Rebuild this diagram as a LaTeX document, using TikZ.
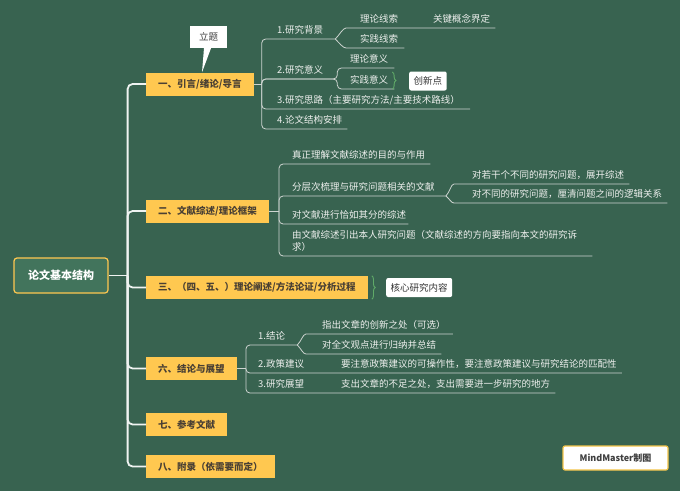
\documentclass[tikz,border=0pt]{standalone}
\usepackage{fontspec}
\setmainfont{Noto Sans CJK SC}
\usepackage{tikz}
\usetikzlibrary{
  positioning, calc,
  decorations.pathreplacing
}
\definecolor{boardgreen}{RGB}{56,99,80}
\definecolor{rootgreen}{RGB}{66,116,92}
\definecolor{topicyellow}{RGB}{255,200,80}
\definecolor{topictext}{RGB}{74,64,52}
\definecolor{leafwhite}{RGB}{238,240,238}
\definecolor{linegray}{RGB}{205,212,208}
\definecolor{bracegreen}{RGB}{96,170,104}
\definecolor{markyellow}{RGB}{244,196,72}
\tikzset{
  rootbox/.style={rectangle,rounded corners=3pt,draw=topicyellow,line width=1.2pt,fill=rootgreen,text=white,minimum width=94pt,minimum height=35pt,font=\fontsize{11}{13}\selectfont\bfseries},
  topicbox/.style={rectangle,fill=topicyellow,text=topictext,anchor=west,minimum height=23pt,inner xsep=12pt,font=\fontsize{9.5}{11}\selectfont\bfseries},
  leaf/.style={anchor=south west,inner xsep=0pt,inner ysep=3pt,text depth=2.5pt,text=leafwhite,align=left,font=\fontsize{9.5}{11.5}\selectfont},
  notebox/.style={rectangle,rounded corners=2pt,fill=white,text=black!80,minimum height=19pt,inner xsep=4.5pt,font=\fontsize{9.5}{11}\selectfont},
  titlebox/.style={rectangle,fill=white,text=black!75,minimum width=37pt,minimum height=22pt,font=\fontsize{9.5}{11}\selectfont},
  markbox/.style={rectangle,rounded corners=2pt,draw=markyellow,line width=1.2pt,fill=white,text=black!75,minimum width=105pt,minimum height=24pt,font=\fontsize{9}{11}\selectfont\bfseries},
  trunk/.style={draw=white!92!boardgreen,line width=1.8pt,rounded corners=5pt},
  subline/.style={draw=linegray,line width=0.8pt,rounded corners=4pt},
  curly/.style={draw=bracegreen,line width=0.9pt,decorate,decoration={brace,amplitude=3.5pt}}
}

\begin{document}
\begin{tikzpicture}[x=1pt,y=-1pt]

  \fill[boardgreen] (0,0) rectangle (680,491);
  \useasboundingbox (0,0) rectangle (680,491);

  %% ROOT AND MAIN TOPICS
  \node[rootbox] (root) at (61,275.5) {论文基本结构};
  \node[topicbox] (intro) at (146,84) {一、引言/绪论/导言};
  \node[topicbox] (review) at (146,211) {二、文献综述/理论框架};
  \node[topicbox] (theory) at (146,287.5) {三、（四、五、）理论阐述/方法论证/分析过程};
  \node[topicbox] (concl) at (146,368.5) {六、结论与展望};
  \node[topicbox] (refs) at (146,424.5) {七、参考文献};
  \node[topicbox] (appx) at (146,466.5) {八、附录（依需要而定）};

  %% CALLOUT
  \node[titlebox] (title) at (208.5,37) {立题};
  \fill[white] ([xshift=-4.5pt]title.south) -- ([xshift=2.5pt]title.south)
    -- ($(intro.north west)+(56,0)$) -- cycle;

  %% BRANCH 1 — INTRODUCTION
  \node[leaf] (bg) at (277,39) {1.研究背景};
  \node[leaf] (bg_th) at (360,28) {理论线索};
  \node[leaf] (bg_key) at (433,28) {关键概念界定};
  \node[leaf] (bg_pr) at (360,48) {实践线索};
  \node[leaf] (sig) at (277,79) {2.研究意义};
  \node[leaf] (sig_th) at (350,68) {理论意义};
  \node[leaf] (sig_pr) at (350,89) {实践意义};
  \node[notebox,anchor=west] (innov) at (409,81) {创新点};
  \node[leaf] (idea) at (277,109) {3.研究思路（主要研究方法/主要技术路线）};
  \node[leaf] (plan) at (277,129) {4.论文结构安排};

  %% BRANCH 2 — LITERATURE
  \node[leaf] (purpose) at (292,164) {真正理解文献综述的目的与作用};
  \node[leaf] (layer) at (292,196) {分层次梳理与研究问题相关的文献};
  \node[leaf] (layer_a) at (472,184) {对若干个不同的研究问题，展开综述};
  \node[leaf] (layer_b) at (472,203) {对不同的研究问题，厘清问题之间的逻辑关系};
  \node[leaf] (proper) at (292,224) {对文献进行恰如其分的综述};
  \node[leaf] (question) at (292,256)
    {由文献综述引出本人研究问题（文献综述的方向要指向本文的研究诉\\求）};

  %% BRANCH 3 — CORE CONTENT
  \node[notebox,anchor=west] (core) at (386,287.5) {核心研究内容};

  %% BRANCH 6 — CONCLUSION
  \node[leaf] (res) at (258,345) {1.结论};
  \node[leaf] (res_a) at (322,334) {指出文章的创新之处（可选）};
  \node[leaf] (res_b) at (322,354) {对全文观点进行归纳并总结};
  \node[leaf] (policy) at (258,373) {2.政策建议};
  \node[leaf] (policy_t) at (341,373) {要注意政策建议的可操作性，要注意政策建议与研究结论的匹配性};
  \node[leaf] (outlook) at (258,393) {3.研究展望};
  \node[leaf] (outlook_t) at (341,393) {支出文章的不足之处，支出需要进一步研究的地方};

  %% MARK
  \node[markbox] (mark) at (615.5,458) {MindMaster制图};

  %% CONNECTIONS — TRUNK
  \coordinate (tk) at ([xshift=19pt]root.east);
  \draw[trunk] (root.east) -- (tk);
  \draw[trunk] (tk) |- (intro.west);
  \draw[trunk] (tk) |- (review.west);
  \draw[trunk] (tk) |- (theory.west);
  \draw[trunk] (tk) |- (concl.west);
  \draw[trunk] (tk) |- (refs.west);
  \draw[trunk] (tk) |- (appx.west);

  %% CONNECTIONS — BRANCH 1
  \coordinate (h1) at ([xshift=8pt]intro.east);
  \coordinate (f1) at ([xshift=12pt]bg.south east);
  \coordinate (f2) at ([xshift=14pt]sig.south east);
  \draw[subline] (intro.east) -- (h1);
  \draw[subline] (h1) |- (f1);
  \draw[subline] (f1) .. controls +(4,-4) and +(-7,0) .. ([xshift=-10pt]bg_th.south west)
    -- ([xshift=5pt]bg_key.south east);
  \draw[subline] (f1) .. controls +(4,4) and +(-7,0) .. ([xshift=-10pt]bg_pr.south west)
    -- ([xshift=6pt]bg_pr.south east);
  \draw[subline] (h1) |- (f2) |- ([xshift=6pt]sig_th.south east);
  \draw[subline] (h1) |- (f2) |- ([xshift=6pt]sig_pr.south east);
  \draw[subline] (h1) |- ([xshift=10pt]idea.south east);
  \draw[subline] (h1) |- ([xshift=5pt]plan.south east);
  \draw[curly] ([xshift=4pt]sig_pr.north east) -- ([xshift=4pt]sig_pr.south east);

  %% CONNECTIONS — BRANCH 2
  \coordinate (h2) at ([xshift=10pt]review.east);
  \coordinate (f3) at ([xshift=11pt]layer.south east);
  \draw[subline] (review.east) -- (h2);
  \draw[subline] (h2) |- ([xshift=5pt]purpose.south east);
  \draw[subline] (h2) |- (f3);
  \draw[subline] (f3) .. controls +(4,-4) and +(-7,0) .. ([xshift=-14pt]layer_a.south west)
    -- ([xshift=5pt]layer_a.south east);
  \draw[subline] (f3) .. controls +(4,3) and +(-7,0) .. ([xshift=-14pt]layer_b.south west)
    -- ([xshift=5pt]layer_b.south east);
  \draw[subline] (h2) |- ([xshift=2pt]proper.south east);
  \draw[subline] (h2) |- ([xshift=15pt]question.south east);

  %% CONNECTIONS — BRANCH 3
  \draw[curly] ([xshift=4pt]theory.north east) -- ([xshift=4pt]theory.south east);

  %% CONNECTIONS — BRANCH 6
  \coordinate (h6) at ([xshift=9pt]concl.east);
  \coordinate (f4) at ([xshift=12pt]res.south east);
  \draw[subline] (concl.east) -- (h6);
  \draw[subline] (h6) |- (f4);
  \draw[subline] (f4) .. controls +(4,-4) and +(-7,0) .. ([xshift=-12pt]res_a.south west)
    -- ([xshift=7pt]res_a.south east);
  \draw[subline] (f4) .. controls +(4,4) and +(-7,0) .. ([xshift=-12pt]res_b.south west)
    -- ([xshift=5pt]res_b.south east);
  \draw[subline] (h6) |- ([xshift=5pt]policy_t.south east);
  \draw[subline] (h6) |- ([xshift=5pt]outlook_t.south east);

\end{tikzpicture}
\end{document}
